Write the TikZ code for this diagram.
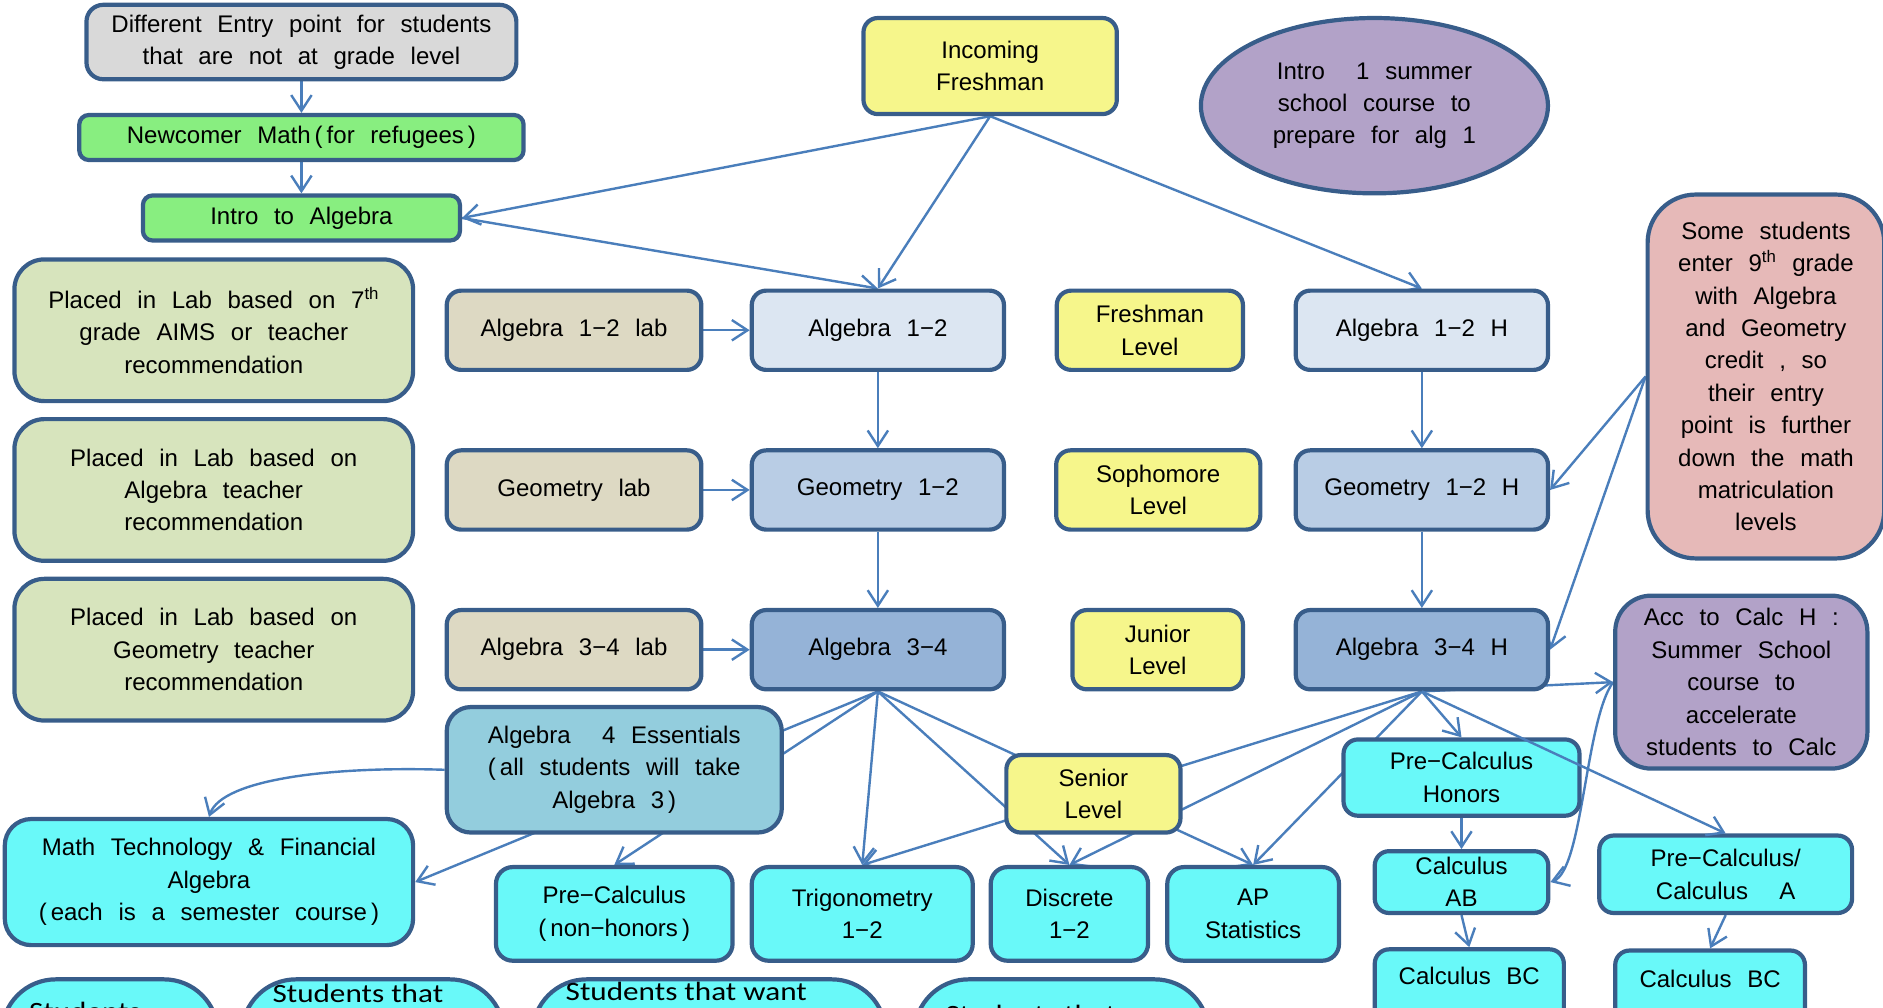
\documentclass[tikz,border=0pt]{standalone}
\usepackage{fontspec}
\setmainfont{Liberation Sans}[WordSpace=2.35]
\newfontfamily\botfont{Carlito}[FakeStretch=1.18]
\usetikzlibrary{arrows.meta,shapes.geometric,backgrounds}
\definecolor{bord}{HTML}{385D8A}
\definecolor{arr}{HTML}{4A7EBB}
\definecolor{cgray}{HTML}{D9D9D9}
\definecolor{cgreen}{HTML}{88EE80}
\definecolor{cyellow}{HTML}{F6F68B}
\definecolor{cpurple}{HTML}{B2A2C8}
\definecolor{cpink}{HTML}{E6B9B8}
\definecolor{clgreen}{HTML}{D7E4BD}
\definecolor{ctan}{HTML}{DDD9C3}
\definecolor{cbone}{HTML}{DCE6F2}
\definecolor{cbtwo}{HTML}{B9CDE5}
\definecolor{cbthree}{HTML}{95B3D7}
\definecolor{cess}{HTML}{93CDDD}
\definecolor{ccyan}{HTML}{69F9F9}
\begin{document}
\begin{tikzpicture}[x=1pt,y=-1pt,
  box/.style={draw=bord, line width=3.5pt, rounded corners=12pt, inner sep=0pt,
    align=center, font=\fontsize{20}{27}\selectfont, text=black},
  con/.style={draw=arr, line width=2pt, -{Straight Barb[length=13pt,width=17pt]}},
  bottxt/.style={font=\botfont\fontsize{22}{26}\selectfont, inner sep=0pt, text=black}]
\useasboundingbox (0,0) rectangle (1568,839);
\clip (0,0) rectangle (1568,839);

% top-left chain
\node[box, fill=cgray, rounded corners=14pt, minimum width=358pt, minimum height=62pt] (entry) at (251,35)
  {Different Entry point for students\\that are not at grade level};
\node[box, fill=cgreen, rounded corners=8pt, minimum width=370pt, minimum height=37.5pt] (newcomer) at (251,114.5)
  {Newcomer Math\,(\,for refugees\,)};
\node[box, fill=cgreen, rounded corners=8pt, minimum width=264pt, minimum height=37.5pt] (introalg) at (251,181.5)
  {Intro to Algebra};

\node[box, fill=cyellow, minimum width=211pt, minimum height=80pt] (incoming) at (824.5,55)
  {Incoming\\Freshman};
\node[box, ellipse, fill=cpurple, minimum width=289pt, minimum height=146pt] (introone) at (1144.5,88)
  {Intro~~1 summer\\school course to\\prepare for alg 1};
\node[box, fill=cpink, rounded corners=40pt, minimum width=197pt, minimum height=303pt] (pink) at (1470.5,313.5)
  {Some students\\enter 9\textsuperscript{th} grade\\with Algebra\\and Geometry\\credit , so\\their entry\\point is further\\down the math\\matriculation\\levels};

% placement boxes
\node[box, fill=clgreen, rounded corners=25pt, minimum width=332pt, minimum height=118pt] (placedseven) at (178,275)
  {Placed in Lab based on 7\textsuperscript{th}\\grade AIMS or teacher\\recommendation};
\node[box, fill=clgreen, rounded corners=25pt, minimum width=332pt, minimum height=118pt] (placedalg) at (178,408)
  {Placed in Lab based on\\Algebra teacher\\recommendation};
\node[box, fill=clgreen, rounded corners=25pt, minimum width=332pt, minimum height=118pt] (placedgeo) at (178,541)
  {Placed in Lab based on\\Geometry teacher\\recommendation};

% labs
\node[box, fill=ctan, minimum width=212pt, minimum height=66pt] (alglab) at (478,275) {Algebra 1−2 lab};
\node[box, fill=ctan, minimum width=212pt, minimum height=66pt] (geolab) at (478,408) {Geometry lab};
\node[box, fill=ctan, minimum width=212pt, minimum height=66pt] (algthlab) at (478,541) {Algebra 3−4 lab};

% main track
\node[box, fill=cbone, minimum width=210pt, minimum height=66pt] (algone) at (731,275) {Algebra 1−2};
\node[box, fill=cbtwo, minimum width=210pt, minimum height=66pt] (geoone) at (731,408) {Geometry 1−2};
\node[box, fill=cbthree, minimum width=210pt, minimum height=66pt] (algth) at (731,541) {Algebra 3−4};

% levels
\node[box, fill=cyellow, minimum width=155pt, minimum height=66pt] (freshman) at (957.5,275) {Freshman\\Level};
\node[box, fill=cyellow, minimum width=170pt, minimum height=66pt] (sophomore) at (964.5,408) {Sophomore\\Level};
\node[box, fill=cyellow, minimum width=142pt, minimum height=66pt] (junior) at (964,541) {Junior\\Level};

% honors track
\node[box, fill=cbone, minimum width=210pt, minimum height=66pt] (algoneh) at (1184,275) {Algebra 1−2 H};
\node[box, fill=cbtwo, minimum width=210pt, minimum height=66pt] (geooneh) at (1184,408) {Geometry 1−2 H};
\node[box, fill=cbthree, minimum width=210pt, minimum height=66pt] (algthh) at (1184,541) {Algebra 3−4 H};

\node[box, fill=cpurple, rounded corners=30pt, minimum width=210pt, minimum height=144pt] (acc) at (1450,568)
  {Acc to Calc H :\\Summer School\\course to\\accelerate\\students to Calc};

\node[box, fill=cess, rounded corners=20pt, minimum width=279pt, minimum height=104.5pt] (ess) at (511.5,641)
  {Algebra~~4 Essentials\\(\,all students will take\\Algebra 3\,)};
\node[box, fill=cyellow, minimum width=145pt, minimum height=64.5pt] (senior) at (910.5,661) {Senior\\Level};
\node[box, fill=ccyan, minimum width=196.5pt, minimum height=63.5pt] (precalch) at (1217,647.5) {Pre−Calculus\\Honors};

\node[box, fill=ccyan, rounded corners=22pt, minimum width=340pt, minimum height=105pt] (mathtech) at (174,734.5)
  {Math Technology \& Financial\\Algebra\\(\,each is a semester course\,)};
\node[box, fill=ccyan, rounded corners=14pt, minimum width=197pt, minimum height=78pt] (precalc) at (511.5,761)
  {Pre−Calculus\\(\,non−honors\,)};
\node[box, fill=ccyan, rounded corners=14pt, minimum width=184pt, minimum height=78pt] (trig) at (718,761)
  {Trigonometry\\1−2};
\node[box, fill=ccyan, rounded corners=14pt, minimum width=131pt, minimum height=78pt] (discrete) at (890.5,761)
  {Discrete\\1−2};
\node[box, fill=ccyan, rounded corners=14pt, minimum width=143pt, minimum height=78pt] (apstats) at (1043.5,761)
  {AP\\Statistics};
\node[box, fill=ccyan, minimum width=144.5pt, minimum height=51.5pt] (calcab) at (1217,734.5)
  {Calculus\\AB};
\node[box, fill=ccyan, minimum width=210.5pt, minimum height=64.5pt] (pca) at (1437,728)
  {Pre−Calculus/\\Calculus~~A};
\node[box, fill=ccyan, anchor=north, minimum width=157.5pt, text height=29pt, text depth=60pt] (calcbcone) at (1223.5,788.75)
  {Calculus BC};
\node[box, fill=ccyan, anchor=north, minimum width=158pt, text height=31pt, text depth=60pt] (calcbctwo) at (1424,789.75)
  {Calculus BC};

% bottom row (cut off)
\node[box, fill=ccyan, rounded corners=45pt, anchor=north, minimum width=180pt, minimum height=100pt] (sta) at (91.5,813.75) {};
\node[box, fill=ccyan, rounded corners=45pt, anchor=north, minimum width=218pt, minimum height=100pt] (stb) at (310.5,813.75) {};
\node[box, fill=ccyan, rounded corners=45pt, anchor=north, minimum width=294pt, minimum height=100pt] (stc) at (590.5,813.75) {};
\node[box, fill=ccyan, rounded corners=45pt, anchor=north, minimum width=245pt, minimum height=100pt] (std) at (884,813.75) {};
\node[bottxt, anchor=base west] (stat) at (24,850) {Students};
\node[bottxt, anchor=base] (stbt) at (298,835) {Students that};
\node[bottxt, anchor=base] (stct) at (571.5,833) {Students that want};
\node[bottxt, anchor=base west] (stdt) at (787,852) {Students that};

\begin{pgfonlayer}{background}
\draw[con] (entry) -- (newcomer);
\draw[con] (newcomer) -- (introalg);
\draw[con] (incoming.south) -- (introalg.east);
\draw[con] (introalg.east) -- (algone.north);
\draw[con] (incoming.south) -- (algone.north);
\draw[con] (incoming.south) -- (algoneh.north);
\draw[con] (alglab) -- (algone);
\draw[con] (geolab) -- (geoone);
\draw[con] (algthlab) -- (algth);
\draw[con] (algone) -- (geoone);
\draw[con] (geoone) -- (algth);
\draw[con] (algoneh) -- (geooneh);
\draw[con] (geooneh) -- (algthh);
\draw[con] (pink.west) -- (geooneh.east);
\draw[con] (pink.west) -- (algthh.east);
\draw[con] (algth.south) -- (mathtech.east);
\draw[con] (algth.south) -- (precalc.north);
\draw[con] (algth.south) -- (trig.north);
\draw[con] (algth.south) -- (discrete.north);
\draw[con] (algth.south) -- (apstats.north);
\draw[con] (algthh.south) -- (trig.north);
\draw[con] (algthh.south) -- (discrete.north);
\draw[con] (algthh.south) -- (apstats.north);
\draw[con] (algthh.south) -- (precalch.north);
\draw[con] (algthh.south) -- (acc.west);
\draw[con] (ess.west) .. controls (280,638) and (185,648) .. (mathtech.north);
\draw[con] (acc.west) .. controls (1320,600) and (1318,725) .. (calcab.east);
\draw[con] (precalch) -- (calcab);
\draw[con] (calcab.south) -- (calcbcone.north);
\draw[con] (pca.south) -- (calcbctwo.north);
\end{pgfonlayer}
\draw[con] (algthh.south) -- (pca.north);
\end{tikzpicture}
\end{document}
